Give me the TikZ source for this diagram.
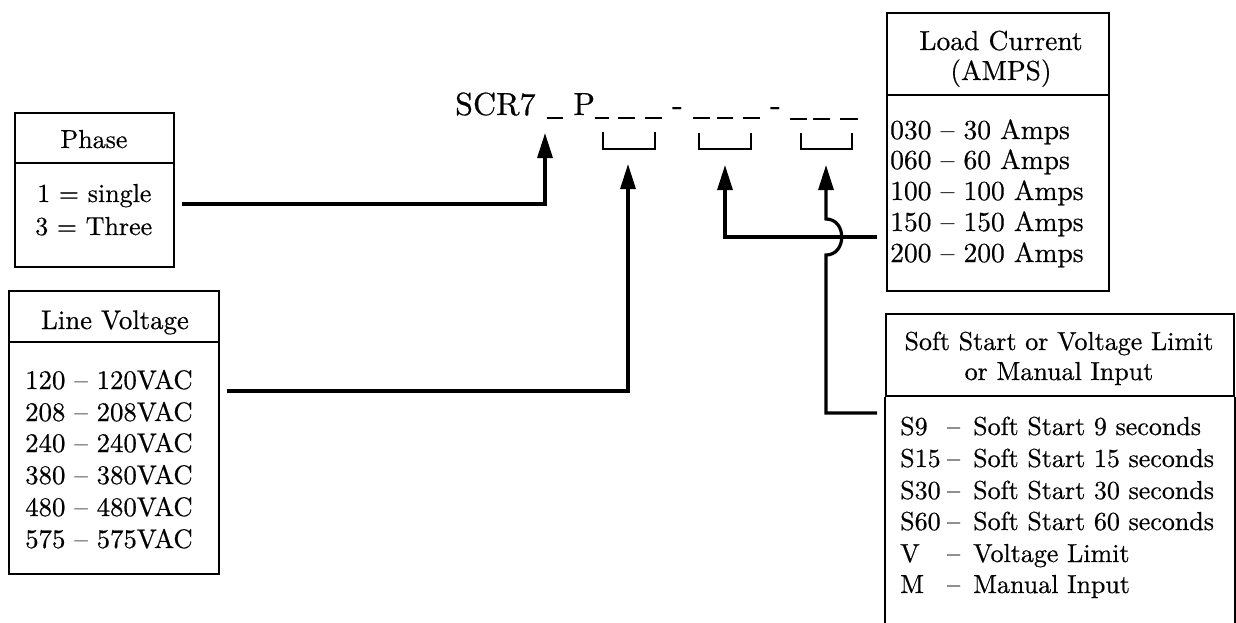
\documentclass[tikz,border=0pt]{standalone}
\usepackage{fontspec}
\setmainfont{lmroman10-regular.otf}[FakeBold=0.5]
\usetikzlibrary{arrows.meta}
\begin{document}
\begin{tikzpicture}[x=1pt,y=-1pt,
  box/.style={draw, line width=2.4pt, inner sep=0pt, anchor=north west},
  divline/.style={line width=2.4pt},
  arr/.style={line width=3.2pt, -{Triangle[length=25pt,width=15pt]}},
  txt/.style={anchor=base west, inner sep=0pt, font=\fontsize{26}{31}\selectfont},
  ctxt/.style={anchor=base, inner sep=0pt, font=\fontsize{26}{31}\selectfont},
  vtxt/.style={anchor=base west, inner sep=0pt, font=\fontsize{26.8}{32}\selectfont},
  vctxt/.style={anchor=base, inner sep=0pt, font=\fontsize{26.8}{32}\selectfont},
  ltxt/.style={anchor=base west, inner sep=0pt, font=\fontsize{27.5}{33}\selectfont},
  lctxt/.style={anchor=base, inner sep=0pt, font=\fontsize{27.5}{33}\selectfont},
  big/.style={anchor=base west, inner sep=0pt, font=\fontsize{32}{38}\selectfont},
  blank/.style={line width=1.8pt},
  brk/.style={line width=2.4pt},
]
\useasboundingbox (0,0) rectangle (1236,623);

% ---------- code line ----------
\node[big] (scr) at (455,115) {SCR7};
\node[big] (pp) at (573,115) {P};
\node[big] (hy1) at (672,115) {-};
\node[big] (hy2) at (770,115) {-};
\draw[blank] (547,118) -- (563,118);
\draw[blank] (595,118) -- (609,118);
\draw[blank] (618,118) -- (635,118);
\draw[blank] (645,118) -- (662,118);
\draw[blank] (693,118) -- (710,118);
\draw[blank] (717,118) -- (733,118);
\draw[blank] (743,118) -- (760,118);
\draw[blank] (790,119) -- (807,119);
\draw[blank] (813,119) -- (830,119);
\draw[blank] (840,119) -- (858,119);
\draw[brk] (603,132) |- (655,149) -- (655,132);
\draw[brk] (699,133) |- (751,149) -- (751,133);
\draw[brk] (801,133) |- (852,149) -- (852,133);

% ---------- Phase box ----------
\node[box, minimum width=159pt, minimum height=154pt] (phase) at (14,112) {};
\draw[divline] (14,163) -- (173,163);
\node[ctxt] (phaset) at (94,148) {Phase};
\node[txt] (ph1) at (37,202) {1 = single};
\node[txt] (ph3) at (35,235) {3 = Three};

% ---------- Line Voltage box ----------
\node[box, minimum width=210pt, minimum height=283pt] (volt) at (8,290) {};
\draw[divline] (8,342) -- (218,342);
\node[vctxt] (voltt) at (115,329) {Line Voltage};
\node[vtxt] (v1) at (25,389) {120 – 120VAC};
\node[vtxt] (v2) at (25,421) {208 – 208VAC};
\node[vtxt] (v3) at (25,452) {240 – 240VAC};
\node[vtxt] (v4) at (25,484) {380 – 380VAC};
\node[vtxt] (v5) at (25,516) {480 – 480VAC};
\node[vtxt] (v6) at (25,548) {575 – 575VAC};

% ---------- Load Current box ----------
\node[box, minimum width=222pt, minimum height=278pt] (load) at (886,12) {};
\draw[divline] (886,95) -- (1108,95);
\node[lctxt] (loadt1) at (1001,50) {Load Current};
\node[lctxt] (loadt2) at (1001,80) {(AMPS)};
\node[ltxt] (c1) at (890,139) {030 – 30 Amps};
\node[ltxt] (c2) at (890,169) {060 – 60 Amps};
\node[ltxt] (c3) at (890,200) {100 – 100 Amps};
\node[ltxt] (c4) at (890,231) {150 – 150 Amps};
\node[ltxt] (c5) at (890,262) {200 – 200 Amps};

% ---------- Soft Start box (open at the bottom) ----------
\node[box, minimum width=348pt, minimum height=82pt] (soft) at (885,313) {};
\draw[divline] (soft.south west) -- ++(0,-240pt);
\draw[divline] (soft.south east) -- ++(0,-240pt);
\node[ctxt] (softt1) at (1059,350) {Soft Start or Voltage Limit};
\node[ctxt] (softt2) at (1059,380) {or Manual Input};
\node[txt] (s1) at (900,435) {\makebox[47pt][l]{S9}\makebox[26pt][l]{–}Soft Start 9 seconds};
\node[txt] (s2) at (900,467) {\makebox[47pt][l]{S15}\makebox[26pt][l]{–}Soft Start 15 seconds};
\node[txt] (s3) at (900,499) {\makebox[47pt][l]{S30}\makebox[26pt][l]{–}Soft Start 30 seconds};
\node[txt] (s4) at (900,530) {\makebox[47pt][l]{S60}\makebox[26pt][l]{–}Soft Start 60 seconds};
\node[txt] (s5) at (900,562) {\makebox[47pt][l]{V}\makebox[26pt][l]{–}Voltage Limit};
\node[txt] (s6) at (900,593) {\makebox[47pt][l]{M}\makebox[26pt][l]{–}Manual Input};

% ---------- connectors ----------
\coordinate (tip1) at (545,133);
\coordinate (tip2) at (628,164);
\coordinate (tip3) at (725,165);
\coordinate (tip4) at (826,165);
\coordinate (from1) at (182,204);
\coordinate (from2) at (227,391);
\coordinate (from3) at (877,237);
\coordinate (from4) at (877,413);
\coordinate (hopb) at (826,255);
\coordinate (hopt) at (826,219);

\draw[arr] (from1) -| (tip1);
\draw[arr] (from2) -| (tip2);
\draw[arr] (from3) -| (tip3);
\draw[arr] (from4) -| (hopb) .. controls (847,255) and (847,219) .. (hopt) -- (tip4);
\end{tikzpicture}
\end{document}
